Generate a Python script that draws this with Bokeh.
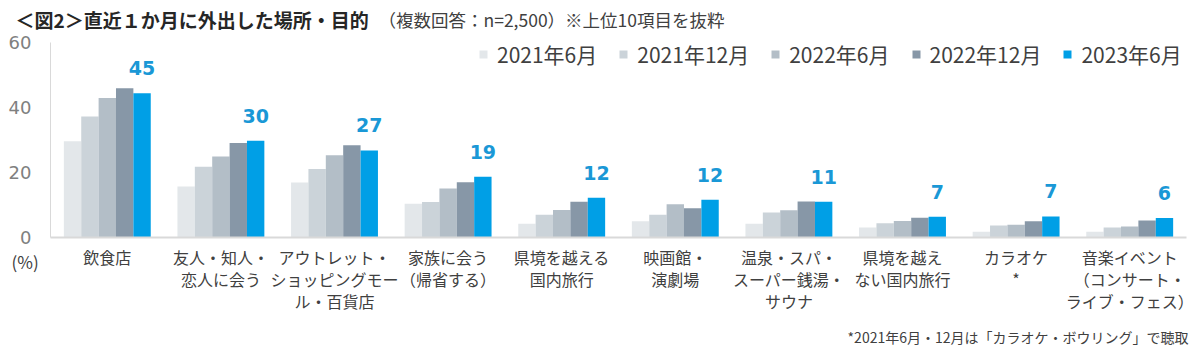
from bokeh.plotting import figure
from bokeh.models import Range1d, Legend, LegendItem, Label, ColumnDataSource, FixedTicker
from bokeh.transform import dodge
from bokeh.core.properties import value
from bokeh.embed import file_html
from bokeh.resources import INLINE

FONT = "Noto Sans CJK JP"
NUM_FONT = "DejaVu Sans"

categories = [
    "飲食店",
    "友人・知人・\n恋人に会う",
    "アウトレット・\nショッピングモー\nル・百貨店",
    "家族に会う\n（帰省する）",
    "県境を越える\n国内旅行",
    "映画館・\n演劇場",
    "温泉・スパ・\nスーパー銭湯・\nサウナ",
    "県境を越え\nない国内旅行",
    "カラオケ\n*",
    "音楽イベント\n（コンサート・\nライブ・フェス）",
]
series_names = ["2021年6月", "2021年12月", "2022年6月", "2022年12月", "2023年6月"]
v2021_06 = [29.6, 15.7, 16.9, 10.4, 4.2, 5.0, 4.2, 3.1, 1.8, 1.8]
v2021_12 = [37.2, 21.8, 21.1, 10.9, 7.0, 7.0, 7.7, 4.4, 3.7, 3.1]
v2022_06 = [42.9, 24.9, 25.3, 15.1, 8.5, 10.2, 8.4, 5.1, 3.9, 3.4]
v2022_12 = [45.9, 29.1, 28.4, 17.0, 11.0, 9.0, 11.1, 6.1, 5.0, 5.2]
v2023_06 = [44.4, 29.8, 26.8, 18.7, 12.2, 11.6, 11.0, 6.4, 6.5, 6.0]
labels_2023 = ["45", "30", "27", "19", "12", "12", "11", "7", "7", "6"]
y_ticks = [0, 20, 40, 60]

colors = ["#e3e7ea", "#cbd3d9", "#b3bec7", "#8797a7", "#009fe6"]
label_color = "#1a98d6"

W, H = 1200, 355
n = len(categories)
xc = [i + 0.5 for i in range(n)]  # category slot centres

src = ColumnDataSource(dict(xc=xc, s0=v2021_06, s1=v2021_12, s2=v2022_06,
                            s3=v2022_12, s4=v2023_06, lbl=labels_2023))

# frame = whole canvas; axes placed with fixed_location
slot_px = 113.6
px_per_unit = 3.25
x_range = Range1d(-50 / slot_px, (W - 50) / slot_px)
y_range = Range1d(-(H - 237) / px_per_unit, 60 + 42 / px_per_unit)

p = figure(x_range=x_range, y_range=y_range, width=W, height=H,
           output_backend="svg", toolbar_location=None,
           min_border=0, min_border_left=0, min_border_right=0,
           min_border_top=0, min_border_bottom=0)
p.outline_line_color = None
p.grid.visible = False
p.background_fill_color = "white"
p.border_fill_color = "white"

bw = 0.153
offsets = [-2 * bw, -bw, 0, bw, 2 * bw]
renderers = []
for i, col in enumerate(["s0", "s1", "s2", "s3", "s4"]):
    r = p.vbar(x=dodge("xc", offsets[i]), top=col, width=bw,
               source=src, fill_color=colors[i], line_color=None)
    renderers.append(r)

p.text(x=dodge("xc", offsets[4]), y="s4", text="lbl", source=src,
       text_font=value(NUM_FONT), text_font_style="bold", text_font_size="19px",
       text_color=label_color, text_align="center", text_baseline="middle", y_offset=-25)

# y axis
p.yaxis.fixed_location = 0
p.yaxis.bounds = (0, 60)
p.yaxis.ticker = FixedTicker(ticks=y_ticks)
p.yaxis.axis_line_color = "#d9d9d9"
p.yaxis.major_tick_line_color = None
p.yaxis.minor_tick_line_color = None
p.yaxis.major_label_text_font = NUM_FONT
p.yaxis.major_label_text_font_size = "18px"
p.yaxis.major_label_text_color = "#808080"
p.yaxis.major_label_standoff = 13

# x axis
p.xaxis.fixed_location = 0
p.xaxis.bounds = (0, n)
p.xaxis.ticker = FixedTicker(ticks=xc)
p.xaxis.major_label_overrides = {x: c for x, c in zip(xc, categories)}
p.xaxis.axis_line_color = "#d9d9d9"
p.xaxis.axis_line_width = 2
p.xaxis.major_tick_line_color = None
p.xaxis.minor_tick_line_color = None
p.xaxis.major_label_text_font = FONT
p.xaxis.major_label_text_font_size = "16px"
p.xaxis.major_label_text_color = "#404040"
p.xaxis.major_label_standoff = 1
p.xaxis.major_label_text_line_height = 0.92

legend = Legend(items=[LegendItem(label=s, renderers=[r]) for s, r in zip(series_names, renderers)],
                orientation="horizontal", location=(478, H - 69),
                glyph_width=10, glyph_height=10, label_standoff=9, spacing=21,
                label_height=22, padding=0, margin=0, border_line_alpha=0,
                background_fill_alpha=0,
                label_text_font=FONT, label_text_font_size="21px", label_text_color="#404040")
p.add_layout(legend, "center")

p.add_layout(Label(x=15, y=H - 19, x_units="screen", y_units="screen",
                   text="＜図2＞直近１か月に外出した場所・目的", text_font=FONT,
                   text_font_style="bold", text_font_size="19px", text_color="#262626",
                   text_baseline="middle"))
p.add_layout(Label(x=378, y=H - 19, x_units="screen", y_units="screen",
                   text="（複数回答：n=2,500）※上位10項目を抜粋", text_font=FONT,
                   text_font_size="17.5px", text_color="#404040", text_baseline="middle"))
p.add_layout(Label(x=11, y=H - 261, x_units="screen", y_units="screen",
                   text="(%)", text_font=FONT, text_font_size="17px", text_color="#404040",
                   text_baseline="middle"))
p.add_layout(Label(x=1188, y=H - 336, x_units="screen", y_units="screen",
                   text="*2021年6月・12月は「カラオケ・ボウリング」で聴取", text_font=FONT,
                   text_font_size="14px", text_color="#404040", text_baseline="middle",
                   text_align="right"))

open("out.html", "w").write(file_html(p, INLINE))
